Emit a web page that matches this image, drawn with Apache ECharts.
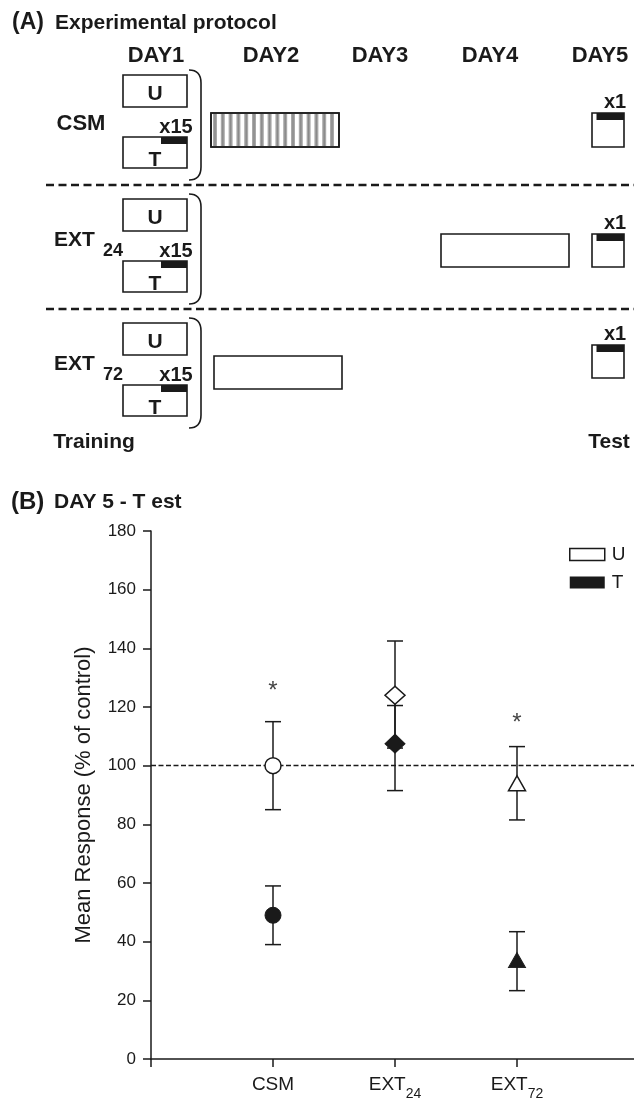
<!DOCTYPE html>
<html>
<head>
<meta charset="utf-8">
<title>Experimental protocol / Day 5 test</title>
<script src="https://cdn.jsdelivr.net/npm/echarts@6/dist/echarts.min.js"></script>
<style>
  html, body { margin: 0; padding: 0; background: #fff; }
  #chart { width: 634px; height: 1100px; }
</style>
</head>
<body>
<div id="chart"></div>
<script>
// panel B: mean response (% of control) on day 5
var groups = ['CSM', 'EXT', 'EXT'];
var groupSub = ['', '24', '72'];
var groupX = [1, 2, 3];
var uMean = [100, 124, 94];
var uLow = [85, 106, 81.5];
var uHigh = [115, 142.5, 106.5];
var tMean = [49, 107.5, 33.7];
var tLow = [39, 91.5, 23.3];
var tHigh = [59, 120.5, 43.4];
var starY = [127, null, 116];
var yMin = 0, yMax = 180, yStep = 20;

// panel A: protocol schematic labels
var days = ['DAY1', 'DAY2', 'DAY3', 'DAY4', 'DAY5'];
var dayX = [156, 271, 380, 490, 600];

var FONT = "'Liberation Sans', Arial, Helvetica, sans-serif";
var ink = '#1a1a1a';
var marks = ['circle', 'diamond', 'triangle'];
var uSize = [16, [20, 18], [17, 15]];
var tSize = [16, [20, 19], [17, 15]];

function txt(s, x, y, size, align, weight) {
    return {
        type: 'text', x: x, y: y, silent: true,
        style: {
            text: s, font: (weight || 'bold') + ' ' + size + 'px ' + FONT,
            fill: ink, textAlign: align || 'center', textVerticalAlign: 'middle'
        }
    };
}
function box(x, y, w, h, fill) {
    return {
        type: 'rect', silent: true,
        shape: { x: x, y: y, width: w, height: h },
        style: { fill: fill || '#fff', stroke: ink, lineWidth: 1.6 }
    };
}
function solid(x, y, w, h, fill) {
    return {
        type: 'rect', silent: true,
        shape: { x: x, y: y, width: w, height: h },
        style: { fill: fill || ink }
    };
}
function seg(x1, y1, x2, y2, w, dash) {
    return {
        type: 'line', silent: true,
        shape: { x1: x1, y1: y1, x2: x2, y2: y2 },
        style: { stroke: ink, lineWidth: w || 1.6, lineDash: dash || null }
    };
}
function curve(x1, y1, cx, cy, x2, y2) {
    return {
        type: 'bezierCurve', silent: true,
        shape: { x1: x1, y1: y1, x2: x2, y2: y2, cpx1: cx, cpy1: cy },
        style: { stroke: ink, lineWidth: 1.6, fill: null }
    };
}

var rows = [
    { top: 75, labelY: 124, barX: 211, barY: 113, barH: 34, striped: true, testY: 113, testH: 34 },
    { top: 199, labelY: 240, barX: 441, barY: 234, barH: 33, striped: false, testY: 234, testH: 33 },
    { top: 323, labelY: 364, barX: 214, barY: 356, barH: 33, striped: false, testY: 345, testH: 33 }
];

var els = [];
els.push(txt('(A)', 12, 23, 23, 'left'));
els.push(txt('Experimental protocol', 55, 23, 21, 'left'));
days.forEach(function (d, i) { els.push(txt(d, dayX[i], 56, 22)); });

rows.forEach(function (r, i) {
    var t = r.top;
    // row name
    if (groupSub[i]) {
        els.push(txt(groups[i], 54, r.labelY, 21, 'left'));
        els.push(txt(groupSub[i], 103, r.labelY + 11, 18, 'left'));
    } else {
        els.push(txt(groups[i], 81, r.labelY, 22));
    }
    // training boxes
    els.push(box(123, t, 64, 32));
    els.push(txt('U', 155, t + 19, 21));
    els.push(box(123, t + 62, 64, 31));
    els.push(solid(161, t + 62, 26, 7));
    els.push(txt('T', 155, t + 85, 21));
    els.push(txt('x15', 176, t + 52, 20));
    // bracket
    els.push(curve(189, t - 5, 201, t - 5, 201, t + 8));
    els.push(seg(201, t + 8, 201, t + 92));
    els.push(curve(201, t + 92, 201, t + 105, 189, t + 105));
    // day 2 / day 4 bar
    if (r.striped) {
        els.push(box(r.barX, r.barY, 128, r.barH, '#fff'));
        for (var sx = r.barX + 2; sx < r.barX + 126; sx += 7.8) {
            els.push(solid(sx, r.barY + 1, 4, r.barH - 2, '#a9a9a9'));
            els.push(solid(sx + 1.3, r.barY + 1, 1.4, r.barH - 2, '#8a8a8a'));
        }
        els.push(box(r.barX, r.barY, 128, r.barH, 'rgba(0,0,0,0)'));
    } else {
        els.push(box(r.barX, r.barY, 128, r.barH));
    }
    // test box
    els.push(box(592, r.testY, 32, r.testH));
    els.push(solid(596.5, r.testY, 27.5, 7));
    els.push(txt('x1', 615, r.testY - 11, 20));
    // separator
    if (i < 2) els.push(seg(46, t + 110, 640, t + 110, 2.5, [8, 4.5]));
});
els.push(txt('Training', 94, 442, 21));
els.push(txt('Test', 609, 442, 21));

els.push(txt('(B)', 11, 502, 24, 'left'));
els.push(txt('DAY 5 - T est', 54, 502, 21, 'left'));

var errData = [];
groupX.forEach(function (x, i) { errData.push([x, uLow[i], uHigh[i]]); });
groupX.forEach(function (x, i) { errData.push([x, tLow[i], tHigh[i]]); });

var starData = [];
groupX.forEach(function (x, i) { if (starY[i] != null) starData.push([x, starY[i]]); });

var chart = echarts.init(document.getElementById('chart'), null, { renderer: 'canvas' });
chart.setOption({
    animation: false,
    backgroundColor: '#fff',
    textStyle: { fontFamily: FONT },
    graphic: { elements: els },
    grid: { left: 151, top: 531, width: 488, height: 528, containLabel: false, outerBoundsMode: 'none' },
    legend: {
        orient: 'vertical', left: 569, top: 545, padding: 0,
        itemWidth: 35, itemHeight: 12, itemGap: 9,
        selectedMode: false,
        textStyle: { fontSize: 19, color: ink, padding: [0, 0, 0, 2] },
        data: [
            { name: 'U', icon: 'rect', itemStyle: { color: '#fff', borderColor: ink, borderWidth: 1.5 } },
            { name: 'T', icon: 'rect', itemStyle: { color: ink, borderWidth: 0 } }
        ]
    },
    xAxis: {
        type: 'value', min: 0, max: 4, interval: 1,
        axisLine: { show: true, lineStyle: { color: ink, width: 1.5 } },
        axisTick: { show: true, length: 8, lineStyle: { color: ink, width: 1.5 } },
        splitLine: { show: false },
        axisLabel: {
            margin: 16, color: ink,
            formatter: function (v) {
                var i = groupX.indexOf(v);
                if (i < 0) return '';
                if (!groupSub[i]) return '{m|' + groups[i] + '}';
                return '{m|' + groups[i] + '}{s|' + groupSub[i] + '}';
            },
            rich: {
                m: { fontSize: 19, color: ink, fontFamily: FONT, verticalAlign: 'bottom', padding: [0, 0, 7, 0] },
                s: { fontSize: 14, color: ink, fontFamily: FONT, verticalAlign: 'bottom' }
            }
        }
    },
    yAxis: {
        type: 'value', min: yMin, max: yMax, interval: yStep,
        name: 'Mean Response (% of control)', nameLocation: 'middle', nameGap: 56,
        nameTextStyle: { fontSize: 22, color: ink, fontFamily: FONT },
        axisLine: { show: true, lineStyle: { color: ink, width: 1.5 } },
        axisTick: { show: true, length: 8, lineStyle: { color: ink, width: 1.5 } },
        splitLine: { show: false },
        axisLabel: { fontSize: 17, color: ink, margin: 15 }
    },
    series: [
        {
            type: 'custom', name: 'sem', z: 2, silent: true,
            data: errData,
            encode: { x: 0, y: [1, 2] },
            renderItem: function (params, api) {
                var lo = api.coord([api.value(0), api.value(1)]);
                var hi = api.coord([api.value(0), api.value(2)]);
                var hw = 8, st = { stroke: ink, lineWidth: 1.5 };
                return {
                    type: 'group', children: [
                        { type: 'line', shape: { x1: lo[0], y1: lo[1], x2: hi[0], y2: hi[1] }, style: st },
                        { type: 'line', shape: { x1: lo[0] - hw, y1: lo[1], x2: lo[0] + hw, y2: lo[1] }, style: st },
                        { type: 'line', shape: { x1: hi[0] - hw, y1: hi[1], x2: hi[0] + hw, y2: hi[1] }, style: st }
                    ]
                };
            }
        },
        {
            type: 'scatter', name: 'U', z: 5,
            data: groupX.map(function (x, i) {
                return { value: [x, uMean[i]], symbol: marks[i], symbolSize: uSize[i] };
            }),
            itemStyle: { color: '#fff', borderColor: ink, borderWidth: 1.5, opacity: 1 },
            markLine: {
                silent: true, symbol: 'none', label: { show: false },
                lineStyle: { type: [5, 2.5], color: ink, width: 1.3 },
                data: [{ yAxis: 100 }]
            }
        },
        {
            type: 'scatter', name: 'T', z: 5,
            data: groupX.map(function (x, i) {
                return { value: [x, tMean[i]], symbol: marks[i], symbolSize: tSize[i] };
            }),
            itemStyle: { color: ink, borderColor: ink, borderWidth: 1, opacity: 1 }
        },
        {
            type: 'custom', name: 'sig', z: 4, silent: true,
            data: starData,
            renderItem: function (params, api) {
                var p = api.coord([api.value(0), api.value(1)]);
                return {
                    type: 'text', x: p[0], y: p[1] + 5,
                    style: { text: '*', font: '24px ' + FONT, fill: '#444', textAlign: 'center', textVerticalAlign: 'middle' }
                };
            }
        }
    ]
});
</script>
</body>
</html>
